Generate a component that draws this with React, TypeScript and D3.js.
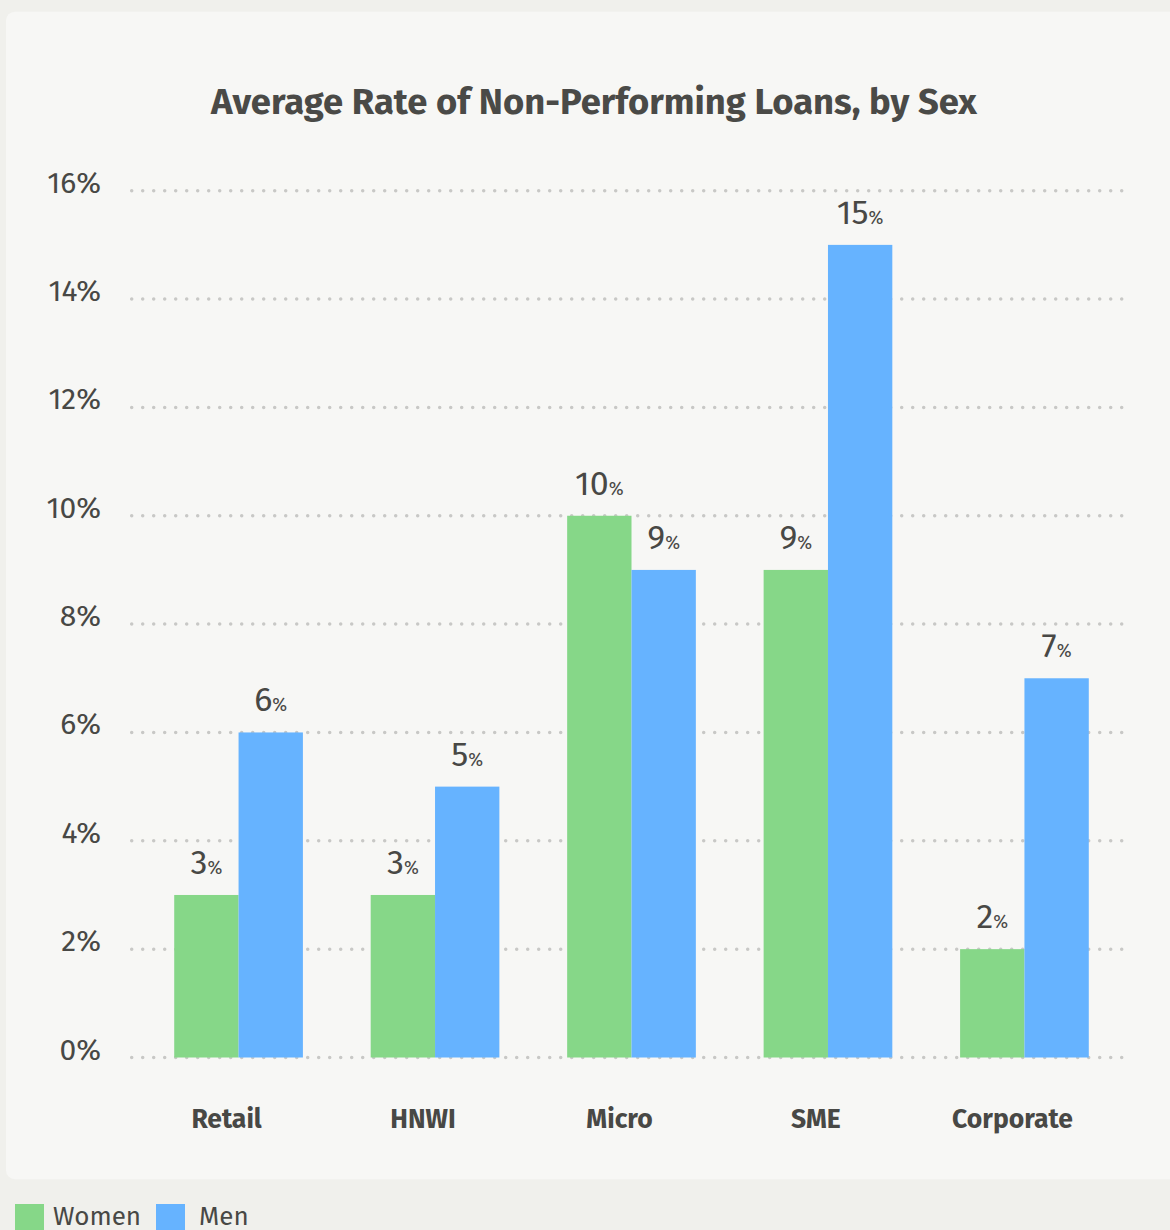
import React from 'react';
import * as d3 from 'd3';

const title = 'Average Rate of Non-Performing Loans, by Sex';
const categories = ['Retail', 'HNWI', 'Micro', 'SME', 'Corporate'];
const seriesNames = ['Women', 'Men'];
const women = [3, 3, 10, 9, 2];
const men = [6, 5, 9, 15, 7];
const yTicks = [0, 2, 4, 6, 8, 10, 12, 14, 16];

const W = 1170;
const H = 1230;
const COLORS = ['#86d788', '#66b3ff'];
const TEXT = '#484845';
const FONT = "'Fira Sans', 'Open Sans', 'Noto Sans', sans-serif";

export default function App() {
  const x0 = d3
    .scaleBand<string>()
    .domain(categories)
    .range([131, 1132])
    .paddingInner(0.345)
    .paddingOuter(0.22);
  const x1 = d3.scaleBand<string>().domain(seriesNames).range([0, x0.bandwidth()]);
  const y = d3.scaleLinear().domain([0, 16]).range([1057.5, 190.7]);
  const color = d3.scaleOrdinal<string, string>().domain(seriesNames).range(COLORS);
  const series = [women, men];

  return (
    <svg
      width={W}
      height={H}
      style={{ position: 'absolute', left: 0, top: 0, display: 'block' }}
      fontFamily={FONT}
    >
      <rect x={0} y={0} width={W} height={H} fill="#f0f0ec" />
      <rect x={6} y={11.7} width={W + 20} height={1167.5} rx={9} fill="#f7f7f5" />
      <text x={594} y={114} textAnchor="middle" fontSize={36.4} fontWeight={700} fill="#4a4a47">
        {title}
      </text>
      {yTicks.map((t) => (
        <g key={t}>
          <line
            x1={131.7}
            x2={1130}
            y1={y(t)}
            y2={y(t)}
            stroke="#c8c8c6"
            strokeWidth={3.5}
            strokeLinecap="round"
            strokeDasharray="0 11"
          />
          <text x={101} y={y(t) + 2} textAnchor="end" fontSize={30} fill={TEXT}>
            {t}%
          </text>
        </g>
      ))}
      {categories.map((c, i) => (
        <g key={c} transform={`translate(${x0(c)},0)`}>
          {seriesNames.map((s, j) => {
            const v = series[j][i];
            const bx = x1(s)!;
            return (
              <g key={s}>
                <rect
                  x={bx}
                  y={y(v)}
                  width={x1.bandwidth()}
                  height={y(0) - y(v)}
                  fill={color(s)}
                />
                <text
                  x={bx + x1.bandwidth() / 2}
                  y={y(v) - 21}
                  textAnchor="middle"
                  fill={TEXT}
                >
                  <tspan fontSize={34}>{v}</tspan>
                  <tspan fontSize={18}>%</tspan>
                </text>
              </g>
            );
          })}
          <text
            x={x0.bandwidth() / 2 - 12}
            y={1128}
            textAnchor="middle"
            fontSize={26.5}
            fontWeight={700}
            fill={TEXT}
          >
            {c}
          </text>
        </g>
      ))}
      <g>
        {seriesNames.map((s, j) => {
          const lx = j === 0 ? 15 : 156;
          return (
            <g key={s}>
              <rect x={lx} y={1204} width={29} height={30} fill={color(s)} />
              <text x={lx + 38 + (j === 1 ? 5 : 0)} y={1225} fontSize={26} fill={TEXT}>
                {s}
              </text>
            </g>
          );
        })}
      </g>
    </svg>
  );
}
